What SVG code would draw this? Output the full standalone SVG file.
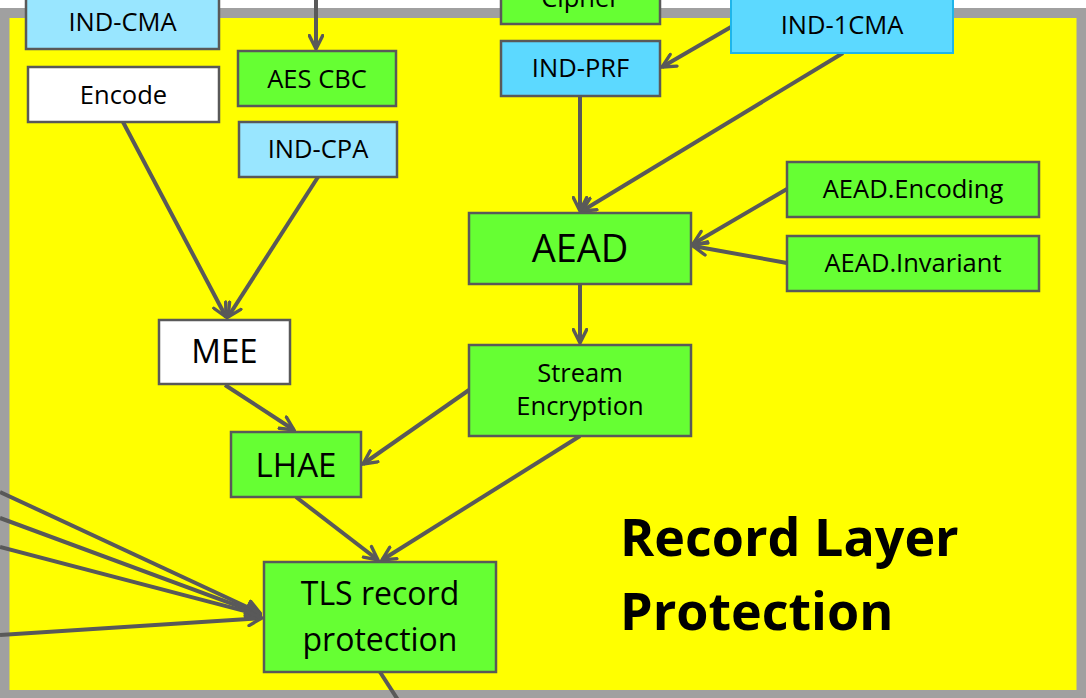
<svg xmlns="http://www.w3.org/2000/svg" width="1086" height="698" viewBox="0 0 1086 698">
<defs>
<style>
.n{stroke:#595959;stroke-width:2.5}
.g{fill:#66FF33}
.b1{fill:#99E6FF}
.b2{fill:#5CD9FF}
.w{fill:#FFFFFF}
.t{font-family:"Open Sans","Liberation Sans",sans-serif;fill:#000;text-anchor:middle}
.s{font-size:25.5px}
.m{font-size:33px}
.c line{stroke:#595959;stroke-width:4;fill:none;marker-end:url(#ah)}
</style>
<marker id="ah" viewBox="0 0 10 10" refX="9" refY="5" markerWidth="4.2" markerHeight="4.2" orient="auto" markerUnits="strokeWidth">
<path d="M1,1 L9,5 L1,9" fill="none" stroke="#595959" stroke-width="2" stroke-linecap="round" stroke-linejoin="miter"/>
</marker>
</defs>
<rect x="0" y="0" width="1086" height="698" fill="#FFFFFF"/>
<rect id="frame" x="4.5" y="13" width="1077" height="682" fill="#FFFF00" stroke="#A0A0A0" stroke-width="10"/>
<g class="c" id="connectors">
<line x1="316" y1="0" x2="316" y2="49"/>
<line x1="123" y1="122" x2="226" y2="317"/>
<line x1="318" y1="177" x2="228" y2="317"/>
<line x1="731" y1="27" x2="662" y2="67"/>
<line x1="843" y1="53" x2="582" y2="211"/>
<line x1="580" y1="96" x2="580" y2="211"/>
<line x1="787" y1="189" x2="693" y2="244"/>
<line x1="787" y1="263" x2="693" y2="246"/>
<line x1="580" y1="284" x2="580" y2="343"/>
<line x1="225" y1="385" x2="294" y2="430"/>
<line x1="469" y1="390" x2="363" y2="464"/>
<line x1="296" y1="497" x2="378" y2="560"/>
<line x1="580" y1="436" x2="382" y2="560"/>
<line x1="0" y1="492" x2="260" y2="613"/>
<line x1="0" y1="518" x2="260" y2="614"/>
<line x1="0" y1="547" x2="260" y2="615"/>
<line x1="0" y1="635" x2="262" y2="618"/>
<line x1="380" y1="672" x2="398" y2="700" style="marker-end:none"/>
</g>
<g id="ind-cma"><rect class="n b1" x="26" y="-10" width="193" height="59"/><text class="t s" x="122.5" y="31">IND-CMA</text></g>
<g id="encode"><rect class="n w" x="28" y="67" width="191" height="55"/><text class="t s" x="123.5" y="104">Encode</text></g>
<g id="aes-cbc"><rect class="n g" x="238" y="51" width="158" height="55"/><text class="t s" x="317" y="88">AES CBC</text></g>
<g id="ind-cpa"><rect class="n b1" x="239" y="122" width="158" height="55"/><text class="t s" x="318" y="158">IND-CPA</text></g>
<g id="cipher"><rect class="n g" x="501" y="-30" width="159" height="54"/><text class="t s" x="580.5" y="7">Cipher</text></g>
<g id="ind-1cma"><rect x="731" y="-10" width="222" height="63" fill="#5CD9FF" stroke="#1FB5EA" stroke-width="2"/><text class="t s" x="842" y="34">IND-1CMA</text></g>
<g id="ind-prf"><rect class="n b2" x="501" y="41" width="159" height="55"/><text class="t s" x="580.5" y="77">IND-PRF</text></g>
<g id="aead"><rect class="n g" x="469" y="213" width="222" height="71"/><text class="t" x="580" y="262" font-size="38">AEAD</text></g>
<g id="aead-encoding"><rect class="n g" x="787" y="162" width="252" height="55"/><text class="t s" x="913" y="198">AEAD.Encoding</text></g>
<g id="aead-invariant"><rect class="n g" x="787" y="236" width="252" height="55"/><text class="t s" x="913" y="272">AEAD.Invariant</text></g>
<g id="mee"><rect class="n w" x="159" y="320" width="131" height="64"/><text class="t m" x="224.5" y="363">MEE</text></g>
<g id="stream-encryption"><rect class="n g" x="469" y="345" width="222" height="91"/><text class="t s" x="580" y="382">Stream</text><text class="t s" x="580" y="415">Encryption</text></g>
<g id="lhae"><rect class="n g" x="231" y="432" width="130" height="65"/><text class="t m" x="296" y="477">LHAE</text></g>
<g id="tls"><rect class="n g" x="264" y="562" width="232" height="110"/><text class="t" x="380" y="605" font-size="32">TLS record</text><text class="t" x="380" y="651" font-size="32">protection</text></g>
<g id="title"><text x="620" y="556" font-family="'Open Sans','Liberation Sans',sans-serif" font-weight="bold" font-size="52" fill="#000">Record Layer</text><text x="620" y="630" font-family="'Open Sans','Liberation Sans',sans-serif" font-weight="bold" font-size="52" fill="#000">Protection</text></g>
</svg>
